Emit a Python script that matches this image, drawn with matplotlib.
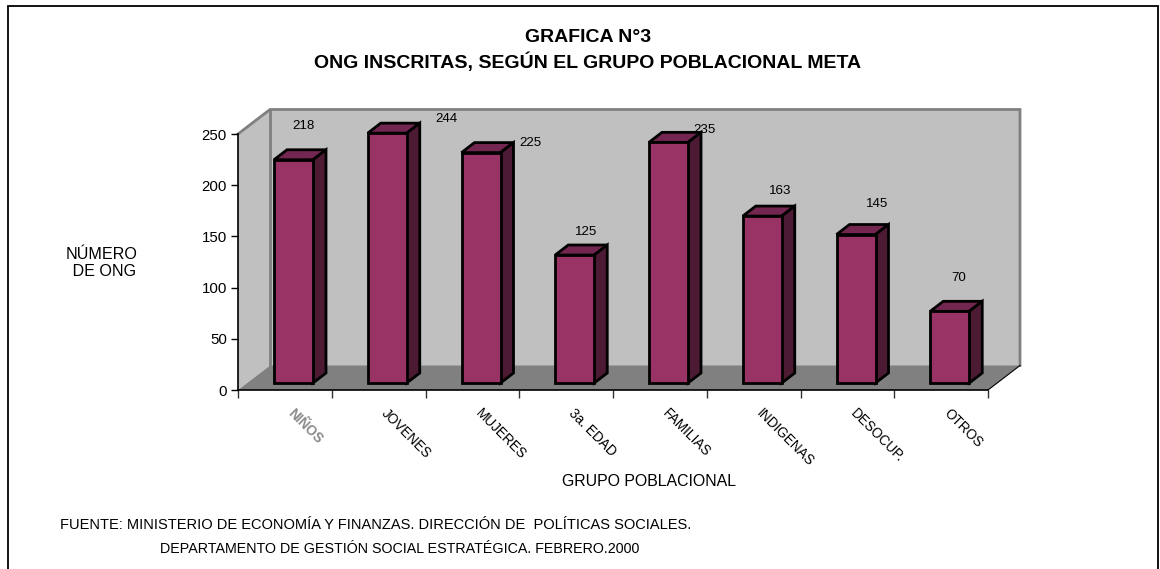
import matplotlib
matplotlib.use('Agg')
import matplotlib.pyplot as plt
from matplotlib.patches import Polygon

plt.rcParams['font.family'] = ['Liberation Sans', 'DejaVu Sans']

categories = ['NIÑOS', 'JOVENES', 'MUJERES', '3a. EDAD', 'FAMILIAS',
              'INDIGENAS', 'DESOCUP.', 'OTROS']
values = [218, 244, 225, 125, 235, 163, 145, 70]
y_ticks = [0, 50, 100, 150, 200, 250]

W, H = 1160, 569

# label offsets from the bar top, in pixels (the original has them scattered)
label_dx = [10, 59, 49, 11, 36, 18, 21, 9]
label_dy = [34, 14, 10, 23, 12, 25, 31, 33]

fig = plt.figure(figsize=(W / 100, H / 100), dpi=100)
ax = fig.add_axes([238 / W, 1 - 390 / H, 750 / W, 256 / H])
ax.set_xlim(0, len(categories))
ax.set_ylim(0, 250)
ax.patch.set_visible(False)

# pixel sizes in data units
ux = len(categories) / 750
uy = 250 / 256
dep_x, dep_y = 32 * ux, 24.5 * uy   # depth of the box
bar_w = 39 * ux
bar_dx, bar_dy = 13 * ux, 10 * uy   # depth of a bar
base_y = 7 * uy                     # bars stand a bit back on the floor
off_x = 36 * ux


def poly(pts, fc, ec='none', lw=0, z=1):
    ax.add_patch(Polygon(pts, closed=True, facecolor=fc, edgecolor=ec, linewidth=lw,
                         zorder=z, clip_on=False, joinstyle='miter'))


n = len(categories)
top_back = 250 + dep_y
# walls and floor
poly([(0, 0), (0, 250), (dep_x, top_back), (dep_x, dep_y)], '#c0c0c0')
poly([(dep_x, dep_y), (n + dep_x, dep_y), (n + dep_x, top_back), (dep_x, top_back)], '#c0c0c0')
poly([(0, 0), (n, 0), (n + dep_x, dep_y), (dep_x, dep_y)], '#808080')
ax.plot([0, dep_x, n + dep_x, n + dep_x], [250, top_back, top_back, dep_y],
        color='#808080', lw=2, zorder=1.5, clip_on=False, solid_joinstyle='miter')
ax.plot([dep_x, dep_x], [dep_y, top_back], color='#808080', lw=2, zorder=1.5, clip_on=False)
ax.plot([n, n + dep_x], [0, dep_y], color='black', lw=0.8, zorder=1.6, clip_on=False)

# bars
for i, v in enumerate(values):
    x0 = i + off_x
    x1 = x0 + bar_w
    y0 = base_y
    y1 = y0 + v
    poly([(x0, y1), (x1, y1), (x1 + bar_dx, y1 + bar_dy), (x0 + bar_dx, y1 + bar_dy)],
         '#732650', 'black', 2, 3)
    poly([(x1, y0), (x1 + bar_dx, y0 + bar_dy), (x1 + bar_dx, y1 + bar_dy), (x1, y1)],
         '#4d1a33', 'black', 2, 3)
    poly([(x0, y0), (x1, y0), (x1, y1), (x0, y1)], '#993366', 'black', 2, 4)
    ax.annotate(str(v), (x0 + bar_w / 2, y1), xytext=(label_dx[i], label_dy[i]),
                textcoords='offset pixels', ha='center', va='center', fontsize=9.6,
                color='black', zorder=5, annotation_clip=False)

for side in ['top', 'right']:
    ax.spines[side].set_visible(False)
ax.spines['left'].set_linewidth(1.2)
ax.spines['bottom'].set_linewidth(1.2)
ax.spines['left'].set_zorder(2)
ax.spines['bottom'].set_zorder(2)

ax.set_yticks(y_ticks)
ax.tick_params(axis='y', labelsize=10.8, length=5, width=1, pad=3)
ax.set_xticks(range(n + 1))
ax.set_xticklabels([])
ax.tick_params(axis='x', which='major', length=6, width=1, color='#333333')
ax.set_xticks([i + 0.5 for i in range(n)], minor=True)
ax.set_xticklabels(categories, minor=True, rotation=-45, ha='left', va='center',
                   rotation_mode='anchor', fontsize=9.8)
ax.tick_params(axis='x', which='minor', length=0, pad=15)
ax.get_xticklabels(minor=True)[0].set_color('#8a8a8a')
ax.get_xticklabels(minor=True)[0].set_fontweight('bold')
# labels sit a little right of the slot centre
for lab in ax.get_xticklabels(minor=True):
    lab.set_x(lab.get_position()[0])
    lab.set_transform(lab.get_transform() + matplotlib.transforms.ScaledTranslation(5 / 100, 0, fig.dpi_scale_trans))


# texts placed in figure pixels
def put(x, y, s, **kw):
    fig.text(x / W, 1 - y / H, s, va='center', **kw)


put(588, 37, 'GRAFICA N°3', ha='center', fontsize=14, fontweight='bold')
put(588, 62, 'ONG INSCRITAS, SEGÚN EL GRUPO POBLACIONAL META', ha='center',
    fontsize=14, fontweight='bold')
put(102, 263, 'NÚMERO\n DE ONG', ha='center', fontsize=11.6, linespacing=1.1)
put(649, 481, 'GRUPO POBLACIONAL', ha='center', fontsize=11.4)
put(60, 525, 'FUENTE: MINISTERIO DE ECONOMÍA Y FINANZAS. DIRECCIÓN DE  POLÍTICAS SOCIALES.',
    ha='left', fontsize=10.5)
put(160, 549, 'DEPARTAMENTO DE GESTIÓN SOCIAL ESTRATÉGICA. FEBRERO.2000',
    ha='left', fontsize=10.3)

# outer frame, open at the bottom
fig.add_artist(plt.Line2D([7.5 / W, 7.5 / W, 1158 / W, 1158 / W],
                          [0, 1 - 5.5 / H, 1 - 5.5 / H, 0],
                          color='black', lw=1.3, solid_joinstyle='miter'))

fig.savefig('out.png', dpi=100)
